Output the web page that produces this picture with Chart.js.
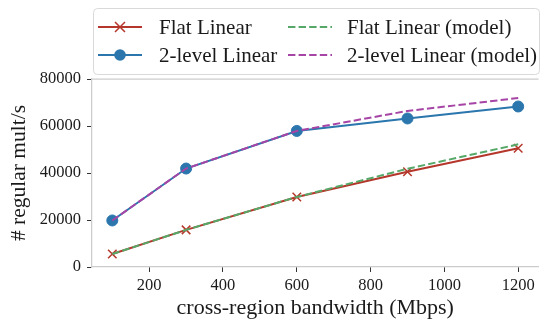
<!DOCTYPE html>
<html>
<head>
<meta charset="utf-8">
<script src="https://cdn.jsdelivr.net/npm/chart.js@4"></script>
<style>
  html, body { margin: 0; padding: 0; background: #fff; overflow: hidden; }
  #wrap { width: 546px; height: 321px; }
</style>
</head>
<body>
<div id="wrap"><canvas id="chart" width="546" height="321"></canvas></div>
<script>
// bandwidth values on the x axis
const bandwidths = [100, 300, 600, 900, 1200];
const xTicks = [200, 400, 600, 800, 1000, 1200];
const yTicks = [0, 20000, 40000, 60000, 80000];

// measured throughput
const flatLinear = [5500, 15800, 29800, 40500, 50500];
const twoLevelLinear = [19800, 41900, 57900, 63200, 68300];
// model predictions
const flatModel = [5500, 15800, 29800, 41800, 52200];
const twoLevelModel = [19800, 41900, 57900, 66400, 71900];

const FONT = "'Liberation Serif', 'Times New Roman', serif";
const red = "#b5372b";
const blue = "#2a76ad";
const green = "#55a868";
const purple = "#a645a6";

const pts = (arr) => arr.map((v, i) => ({ x: bandwidths[i], y: v }));

const datasets = [
  {
    label: "Flat Linear (model)",
    data: pts(flatModel),
    borderColor: green,
    borderWidth: 2,
    borderDash: [7.4, 3.2],
    pointRadius: 0,
    order: 0,
  },
  {
    label: "2-level Linear (model)",
    data: pts(twoLevelModel),
    borderColor: purple,
    borderWidth: 2,
    borderDash: [7.4, 3.2],
    pointRadius: 0,
    order: 0,
  },
  {
    label: "Flat Linear",
    data: pts(flatLinear),
    borderColor: red,
    borderWidth: 2,
    pointStyle: "crossRot",
    pointRadius: 6,
    pointBorderWidth: 1.5,
    pointBorderColor: red,
    order: 1,
  },
  {
    label: "2-level Linear",
    data: pts(twoLevelLinear),
    borderColor: blue,
    backgroundColor: blue,
    borderWidth: 2,
    pointStyle: "circle",
    pointRadius: 5.5,
    pointBorderWidth: 1,
    pointBorderColor: blue,
    pointBackgroundColor: blue,
    order: 1,
  },
];

// legend entries, in the reference's column order
const legendItems = [
  { label: "Flat Linear", color: red, marker: "x", col: 0, row: 0 },
  { label: "2-level Linear", color: blue, marker: "o", col: 0, row: 1 },
  { label: "Flat Linear (model)", color: green, dash: true, col: 1, row: 0 },
  { label: "2-level Linear (model)", color: purple, dash: true, col: 1, row: 1 },
];

const frame = {
  id: "frame",
  afterDraw(chart) {
    const ctx = chart.ctx;
    const a = chart.chartArea;
    ctx.save();
    // top spine
    ctx.strokeStyle = "#cccccc";
    ctx.lineWidth = 1.25;
    ctx.beginPath();
    ctx.moveTo(a.left, a.top);
    ctx.lineTo(a.right, a.top);
    ctx.stroke();

    // legend box
    ctx.fillStyle = "rgba(255,255,255,0.85)";
    ctx.strokeStyle = "#d9d9d9";
    ctx.lineWidth = 1;
    ctx.beginPath();
    ctx.roundRect(93.5, 8.5, 446, 66, 4);
    ctx.fill();
    ctx.stroke();

    const handleX = [98, 288];
    const textX = [159, 347];
    const rowY = [27, 55];
    ctx.font = "21px " + FONT;
    ctx.textBaseline = "middle";
    legendItems.forEach((it) => {
      const x0 = handleX[it.col];
      const x1 = x0 + 44;
      const y = rowY[it.row];
      ctx.strokeStyle = it.color;
      ctx.lineWidth = 2;
      ctx.setLineDash(it.dash ? [7.4, 3.2] : []);
      ctx.beginPath();
      ctx.moveTo(x0, y);
      ctx.lineTo(x1, y);
      ctx.stroke();
      ctx.setLineDash([]);
      const cx = (x0 + x1) / 2;
      if (it.marker === "x") {
        ctx.lineWidth = 1.5;
        ctx.beginPath();
        ctx.moveTo(cx - 5, y - 5);
        ctx.lineTo(cx + 5, y + 5);
        ctx.moveTo(cx + 5, y - 5);
        ctx.lineTo(cx - 5, y + 5);
        ctx.stroke();
      } else if (it.marker === "o") {
        ctx.fillStyle = it.color;
        ctx.beginPath();
        ctx.arc(cx, y, 5.8, 0, Math.PI * 2);
        ctx.fill();
      }
      ctx.fillStyle = "#1a1a1a";
      ctx.fillText(it.label, textX[it.col], y + 1);
    });
    ctx.restore();
  },
};

const config = {
  type: "line",
  data: { datasets },
  options: {
    responsive: false,
    animation: false,
    layout: { padding: { top: 79, left: 0, right: 0, bottom: 0 } },
    plugins: { legend: { display: false }, tooltip: { enabled: false } },
    scales: {
      x: {
        type: "linear",
        min: 45,
        max: 1255,
        afterBuildTicks: (scale) => {
          scale.ticks = xTicks.map((v) => ({ value: v }));
        },
        afterFit: (scale) => {
          scale.height = 54;
        },
        grid: {
          drawOnChartArea: false,
          tickLength: 5,
          tickColor: "#333333",
          tickWidth: 1,
        },
        border: { color: "#cccccc", width: 1.25 },
        ticks: {
          color: "#1a1a1a",
          padding: 4,
          maxRotation: 0,
          font: { family: FONT, size: 16.5 },
          callback: (v) => String(v),
        },
        title: {
          display: true,
          text: "cross-region bandwidth (Mbps)",
          color: "#1a1a1a",
          padding: { top: 0, bottom: 0 },
          font: { family: FONT, size: 22 },
        },
      },
      y: {
        type: "linear",
        min: 0,
        max: 80000,
        afterBuildTicks: (scale) => {
          scale.ticks = yTicks.map((v) => ({ value: v }));
        },
        afterFit: (scale) => {
          scale.width = 92;
        },
        grid: {
          drawOnChartArea: false,
          tickLength: 5,
          tickColor: "#333333",
          tickWidth: 1,
        },
        border: { color: "#cccccc", width: 1.25 },
        ticks: {
          color: "#1a1a1a",
          padding: 6,
          font: { family: FONT, size: 16.5 },
          callback: (v) => String(v),
        },
        title: {
          display: true,
          text: "# regular mult/s",
          color: "#1a1a1a",
          padding: { top: 6, bottom: 0 },
          font: { family: FONT, size: 21.5 },
        },
      },
    },
  },
  plugins: [frame],
};

const chart = new Chart(document.getElementById("chart"), config);
</script>
</body>
</html>
